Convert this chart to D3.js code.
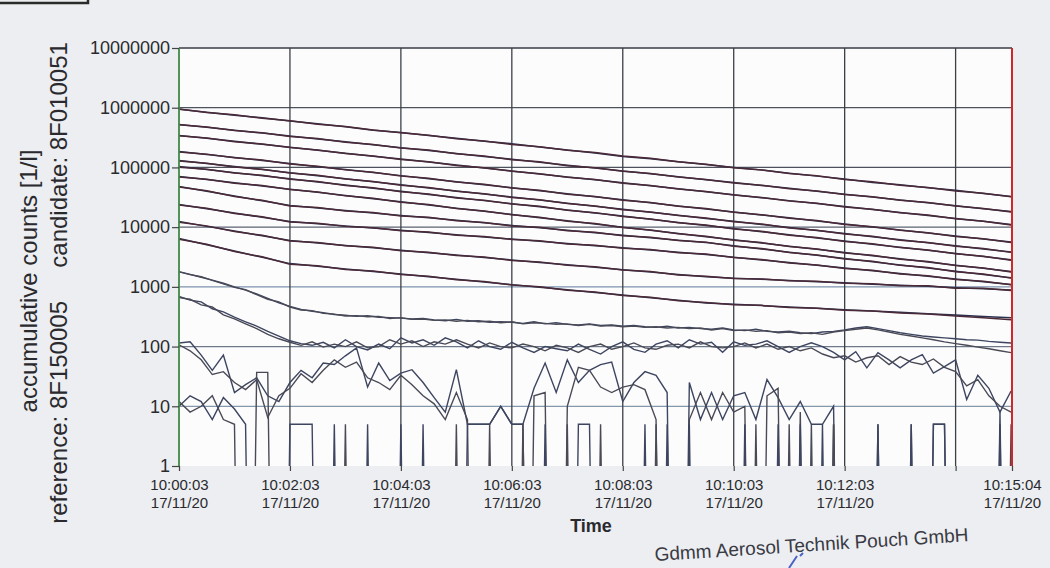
<!DOCTYPE html>
<html><head><meta charset="utf-8">
<script src="https://cdn.jsdelivr.net/npm/d3@7"></script>
<style>html,body{margin:0;padding:0;background:#eceef1;}svg{display:block}</style>
</head><body>
<svg id="chart" width="1050" height="568"></svg>
<script>
// ---- data -------------------------------------------------------------
// measurement start 17/11/20 10:00:03, end 10:15:04 (901 s)
const durationSec = 901;
const xTickSec = [0, 120, 240, 360, 480, 600, 720, 840, 901];
const xTickTime = ["10:00:03","10:02:03","10:04:03","10:06:03","10:08:03","10:10:03","10:12:03","","10:15:04"];
const xTickDate = ["17/11/20","17/11/20","17/11/20","17/11/20","17/11/20","17/11/20","17/11/20","","17/11/20"];
const yTicks = [1, 10, 100, 1000, 10000, 100000, 1000000, 10000000];

// small-size channels, one value every 30 s
const stepCoarse = 30;
const ch1Ref = [940000,840000,751000,680000,600000,537000,480000,420000,384000,343000,307000,274000,250000,219000,196000,175000,153000,140000,125000,112000,100000,91000,80000,71500,64000,56000,51100,45700,41500,36500,32700];
const ch1Cand = [950000,830000,760000,665000,605000,530000,485000,425000,380000,347000,303000,277000,242000,221000,194000,177000,155000,142000,124000,113000,99000,90500,79000,72500,63000,57800,50500,46200,40400,36900,32300];
const ch2Ref = [526000,470000,420000,376000,336000,300000,268000,240000,214000,192000,171000,153000,137000,122000,109000,97700,87300,78100,69800,62400,55800,49900,44600,39900,35600,31900,28500,25500,22800,20300,18200];
const ch2Cand = [520000,475000,415000,380000,330000,305000,265000,243000,211000,195000,169000,155000,135000,124000,107000,99000,86000,79000,69000,63000,55000,50500,44000,40300,35200,32200,28200,25800,22500,20500,17900];
const ch3Ref = [344000,307000,274000,244000,218000,194000,173000,154000,138000,123000,110000,97800,87200,77800,69400,61900,55200,49300,43900,39200,35000,31200,27800,24800,22100,19700,17600,15700,14000,12500,11100];
const ch3Cand = [340000,310000,270000,247000,215000,196000,171000,156000,136000,124000,108000,99000,86000,78500,68500,62500,54500,49800,43400,39600,34600,31500,27500,25100,21800,19900,17400,15900,13800,12600,10900];
const ch4Ref = [185000,165000,147000,131000,116000,103000,92100,81900,72900,64900,57800,51400,45800,40700,36200,32300,28700,25500,22700,20200,18000,16000,14300,12700,11300,10100,8960,7970,7100,6320,5620];
const ch4Cand = [182000,167000,145000,133000,114000,105000,91000,83000,72000,65800,57000,52200,45200,41300,35700,32700,28300,25900,22400,20500,17800,16200,14100,12900,11100,10200,8850,8080,7000,6400,5550];
const ch5Ref = [131000,116000,104000,92000,81800,72700,64700,57500,51100,45400,40400,35900,31900,28400,25200,22400,19900,17700,15800,14000,12500,11100,9850,8760,7790,6920,6150,5470,4860,4320,3840];
const ch5Cand = [128000,118000,102000,93500,80500,73800,63800,58300,50400,46000,39800,36400,31500,28800,24900,22700,19600,17900,15600,14200,12300,11300,9700,8900,7680,7020,6060,5550,4790,4380,3780];
const ch6Ref = [104000,92200,81800,72600,64400,57100,50600,44900,39800,35300,31300,27800,24700,21900,19400,17200,15300,13500,12000,10700,9460,8390,7440,6600,5860,5190,4610,4090,3620,3210,2850];
const ch6Cand = [101000,93500,80500,73700,63500,58000,49900,45600,39200,35900,30800,28200,24300,22300,19100,17500,15100,13700,11800,10900,9320,8520,7330,6700,5770,5270,4540,4150,3570,3260,2800];
const ch7Ref = [70600,62500,55300,48900,43300,38300,33900,30000,26600,23500,20800,18400,16300,14400,12800,11300,10000,8850,7830,6930,6130,5430,4800,4250,3760,3330,2950,2610,2310,2040,1810];
const ch7Cand = [69000,63500,54500,49700,42600,38900,33400,30500,26200,23900,20500,18700,16100,14600,12600,11500,9850,8990,7720,7040,6040,5510,4730,4320,3700,3380,2900,2650,2270,2070,1780];
const ch8Ref = [48000,39900,33200,27600,23000,20900,19000,17300,15700,14300,13000,11800,10700,9760,8870,8060,7330,6660,6060,5510,4870,4310,3810,3370,2980,2630,2330,2060,1820,1610,1420];
const ch8Cand = [47000,40800,32600,28200,22600,21300,18700,17600,15400,14600,12800,12000,10500,9930,8720,8200,7200,6780,5950,5610,4790,4390,3750,3430,2930,2680,2290,2100,1790,1640,1400];
const ch9Ref = [23900,20300,17200,14600,12400,11400,10500,9630,8850,8130,7470,6870,6310,5800,5330,4900,4500,4140,3800,3490,3140,2830,2550,2290,2060,1860,1670,1500,1350,1220,1100];
const ch9Cand = [23400,20800,16900,14900,12200,11600,10300,9800,8700,8280,7340,6990,6200,5900,5240,4990,4420,4210,3740,3550,3090,2880,2510,2330,2030,1890,1640,1530,1330,1240,1080];
const ch10Ref = [12400,10300,8600,7150,5950,5420,4940,4500,4100,3730,3400,3100,2820,2570,2340,2130,1940,1770,1610,1470,1400,1340,1280,1220,1170,1110,1060,1020,970,930,890];
const ch10Cand = [12100,10500,8450,7300,5850,5520,4860,4590,4030,3800,3340,3160,2770,2620,2300,2170,1910,1800,1580,1500,1380,1360,1260,1240,1150,1130,1040,1040,950,950,870];
const ch11Ref = [6440,5060,3970,3120,2450,2210,2000,1810,1640,1480,1340,1210,1090,987,892,806,729,659,596,539,511,485,460,437,415,394,374,355,337,320,304];
const ch11Cand = [6300,5150,3900,3180,2400,2250,1960,1840,1610,1510,1310,1230,1070,1000,875,820,715,670,585,548,502,490,450,440,405,395,365,350,325,305,282];

// large-size channels, one value every 12 s (0 = no particle counted)
const stepFine = 12;
const ch12Ref = [1800,1620,1450,1300,1150,1000,880,760,640,540,470,420,390,370,345,335,320,330,310,305,300,290,295,280,270,285,265,270,255,260,255,245,260,240,250,235,230,240,225,230,220,225,215,210,220,205,210,200,195,205,190,185,195,180,175,180,170,165,175,180,190,205,215,200,185,170,160,150,145,140,135,130,128,122,118,115];
const ch12Cand = [1780,1600,1480,1280,1120,980,900,740,620,560,460,410,400,360,350,325,330,315,320,295,305,285,290,275,280,265,275,260,265,250,260,240,250,245,235,240,225,235,220,225,215,220,210,215,205,210,200,205,190,200,185,190,180,185,170,175,165,170,160,175,185,195,205,190,175,160,150,140,130,120,112,105,98,92,85,79];
const ch13Ref = [690,600,560,430,380,310,260,220,180,150,125,112,105,118,95,130,100,88,110,92,140,115,130,105,140,120,95,125,100,90,118,95,80,100,92,85,110,90,75,100,120,90,80,110,125,95,130,110,118,80,120,105,110,125,100,80,100,116,100,80,60,82,44,79,60,44,60,73,36,46,60,13,33,20,8,18];
const ch13Cand = [660,620,500,460,340,290,240,200,160,135,118,105,120,98,110,100,120,95,100,130,110,125,100,120,110,130,110,95,115,100,95,110,100,85,105,95,80,100,110,90,100,115,95,90,105,110,95,120,100,95,100,115,95,110,90,100,85,95,75,65,70,55,65,70,50,68,55,50,62,45,38,22,28,15,10,8];
const ch14Ref = [115,120,72,40,72,17,23,30,15,12,25,40,30,53,50,70,95,21,53,27,36,41,25,14,8,41,5,5,5,10,5,5,20,53,17,60,25,40,50,55,12,25,38,33,17,0,25,6,17,6,15,17,6,28,14,6,12,5,5,10,0,0,0,5,0,0,0,0,5,5,0,0,0,0,8,0];
const ch14Cand = [107,85,60,34,38,25,19,28,6.5,15,20,35,25,40,60,45,55,30,25,19,33,23,15,11,6,17,6,0,0,0,0,0,15,17,0,10,45,40,21,17,21,23,19,6,0,0,6,17,6,17,8,10,0,15,20,0,8,0,0,5,0,0,0,0,0,0,5,0,0,0,0,0,0,0,0,5];
const ch15Ref = [10,15,12,6,14,9,5,0,0,0,5,5,5,0,5,0,0,5,0,0,5,0,5,0,0,0,5,5,5,10,5,5,0,5,0,0,5,5,0,0,0,0,5,0,5,0,5,0,0,0,0,5,0,0,5,0,5,0,5,0,0,0,0,5,0,0,5,0,5,5,0,0,0,0,5,0];
const ch15Cand = [12,8,10,15,6,5,0,37,37,0,0,0,0,0,0,5,0,0,0,0,0,0,0,0,0,5,0,0,5,0,0,5,0,0,0,5,0,0,5,0,0,0,0,5,0,0,0,0,0,0,0,0,5,0,0,5,0,5,0,5,0,0,0,0,0,0,0,0,0,0,0,0,0,0,0,0];

const coarseChannels = [
  [ch1Ref, ch1Cand], [ch2Ref, ch2Cand], [ch3Ref, ch3Cand], [ch4Ref, ch4Cand],
  [ch5Ref, ch5Cand], [ch6Ref, ch6Cand], [ch7Ref, ch7Cand], [ch8Ref, ch8Cand],
  [ch9Ref, ch9Cand], [ch10Ref, ch10Cand], [ch11Ref, ch11Cand]
];
const fineChannels = [[ch12Ref, ch12Cand], [ch13Ref, ch13Cand], [ch14Ref, ch14Cand], [ch15Ref, ch15Cand]];

// ---- drawing ------------------------------------------------------------
const svg = d3.select("#chart");
const W = 1050, H = 568;
const plot = {left: 179, right: 1012, top: 48, bottom: 466};
const FONT = "'Liberation Sans', Arial, sans-serif";

// page
svg.append("rect").attr("width", W).attr("height", H).attr("fill", "#eceef1");
svg.append("path").attr("d", "M0,3H88V0").attr("fill", "none").attr("stroke", "#2a2a2a").attr("stroke-width", 2.5);

const x = d3.scaleLinear().domain([0, durationSec]).range([plot.left, plot.right]);
const y = d3.scaleLog().domain([1, 1e7]).range([plot.bottom, plot.top]);

svg.append("rect").attr("x", plot.left).attr("y", plot.top)
  .attr("width", plot.right - plot.left).attr("height", plot.bottom - plot.top)
  .attr("fill", "#fcfcfd");

svg.append("clipPath").attr("id", "plotClip").append("rect")
  .attr("x", plot.left).attr("y", plot.top)
  .attr("width", plot.right - plot.left).attr("height", plot.bottom - plot.top);

// horizontal grid (one per decade)
const hColor = {1: "none", 10: "#8497ab", 100: "#6d7888", 1000: "#7e93ad", 10000: "#5b6270", 100000: "#4d525c", 1000000: "#4d525c", 10000000: "#3a3d44"};
svg.append("g").selectAll("line").data(yTicks).join("line")
  .attr("x1", plot.left).attr("x2", plot.right)
  .attr("y1", d => y(d)).attr("y2", d => y(d))
  .attr("stroke", d => hColor[d]).attr("stroke-width", 1.3);

// vertical grid (every 2 min)
svg.append("g").selectAll("line").data(xTickSec.slice(1, -1)).join("line")
  .attr("x1", d => x(d)).attr("x2", d => x(d))
  .attr("y1", plot.top).attr("y2", plot.bottom)
  .attr("stroke", "#3c3f46").attr("stroke-width", 1.3);

// series; a zero count falls off the bottom of the log axis
const lineFor = step => d3.line()
  .x((d, i) => x(i * step))
  .y(d => y(Math.max(d, 1e-12)));

const series = svg.append("g").attr("clip-path", "url(#plotClip)").attr("fill", "none");
const refColor = "#2c3150", candColor = "#4b2a38";
coarseChannels.forEach(([r, c]) => {
  series.append("path").attr("d", lineFor(stepCoarse)(r)).attr("stroke", refColor).attr("stroke-width", 1.5);
  series.append("path").attr("d", lineFor(stepCoarse)(c)).attr("stroke", candColor).attr("stroke-width", 1.5);
});
fineChannels.forEach(([r, c]) => {
  series.append("path").attr("d", lineFor(stepFine)(r)).attr("stroke", "#3d4560").attr("stroke-width", 1.4);
  series.append("path").attr("d", lineFor(stepFine)(c)).attr("stroke", "#4a4a56").attr("stroke-width", 1.4);
});

// frame: green left axis, red right edge
svg.append("line").attr("x1", plot.left).attr("x2", plot.left).attr("y1", plot.top).attr("y2", plot.bottom)
  .attr("stroke", "#3f8a45").attr("stroke-width", 1.8);
svg.append("line").attr("x1", plot.right).attr("x2", plot.right).attr("y1", plot.top).attr("y2", plot.bottom)
  .attr("stroke", "#d02828").attr("stroke-width", 2);

// y axis
const yAxis = svg.append("g").attr("transform", `translate(${plot.left},0)`)
  .call(d3.axisLeft(y).tickValues(yTicks).tickFormat(d3.format("d")).tickSize(7).tickPadding(2));
yAxis.select(".domain").remove();
yAxis.selectAll("line").attr("stroke", "#444").attr("stroke-width", 1.2);
yAxis.selectAll("text").attr("font-family", FONT).attr("font-size", 18).attr("fill", "#2a2a2e");

// x axis
const xAxis = svg.append("g").attr("transform", `translate(0,${plot.bottom})`)
  .call(d3.axisBottom(x).tickValues(xTickSec).tickFormat("").tickSize(5));
xAxis.select(".domain").remove();
xAxis.selectAll("line").attr("stroke", "#444").attr("stroke-width", 1.2);
xAxis.selectAll(".tick").each(function(d, i) {
  const t = d3.select(this).append("text").attr("font-family", FONT).attr("font-size", 15)
    .attr("fill", "#2a2a2e").attr("text-anchor", "middle");
  t.append("tspan").attr("x", 0).attr("y", 24).text(xTickTime[i]);
  t.append("tspan").attr("x", 0).attr("y", 42).text(xTickDate[i]);
});

svg.append("text").attr("x", 591).attr("y", 532).attr("text-anchor", "middle")
  .attr("font-family", FONT).attr("font-size", 18).attr("font-weight", "bold").attr("fill", "#2a2a2e").text("Time");

// y title (two rotated lines)
svg.append("text").attr("transform", "translate(37,281) rotate(-90)").attr("text-anchor", "middle")
  .attr("font-family", FONT).attr("font-size", 24).attr("fill", "#2a2a2e").text("accumulative counts [1/l]");
svg.append("text").attr("transform", "translate(67,283) rotate(-90)").attr("text-anchor", "middle")
  .attr("font-family", FONT).attr("font-size", 24).attr("fill", "#2a2a2e").attr("xml:space", "preserve")
  .text("reference: 8F150005     candidate: 8F010051");

// stamp at the page bottom
svg.append("text").attr("transform", "translate(655,561) rotate(-3.6)")
  .attr("font-family", FONT).attr("font-size", 19).attr("fill", "#3a3a44").text("Gdmm Aerosol Technik Pouch GmbH");
svg.append("path").attr("d", "M789,568 L797,556 M800,556 l3,-3")
  .attr("fill", "none").attr("stroke", "#4a63c8").attr("stroke-width", 2);
</script>
</body></html>
